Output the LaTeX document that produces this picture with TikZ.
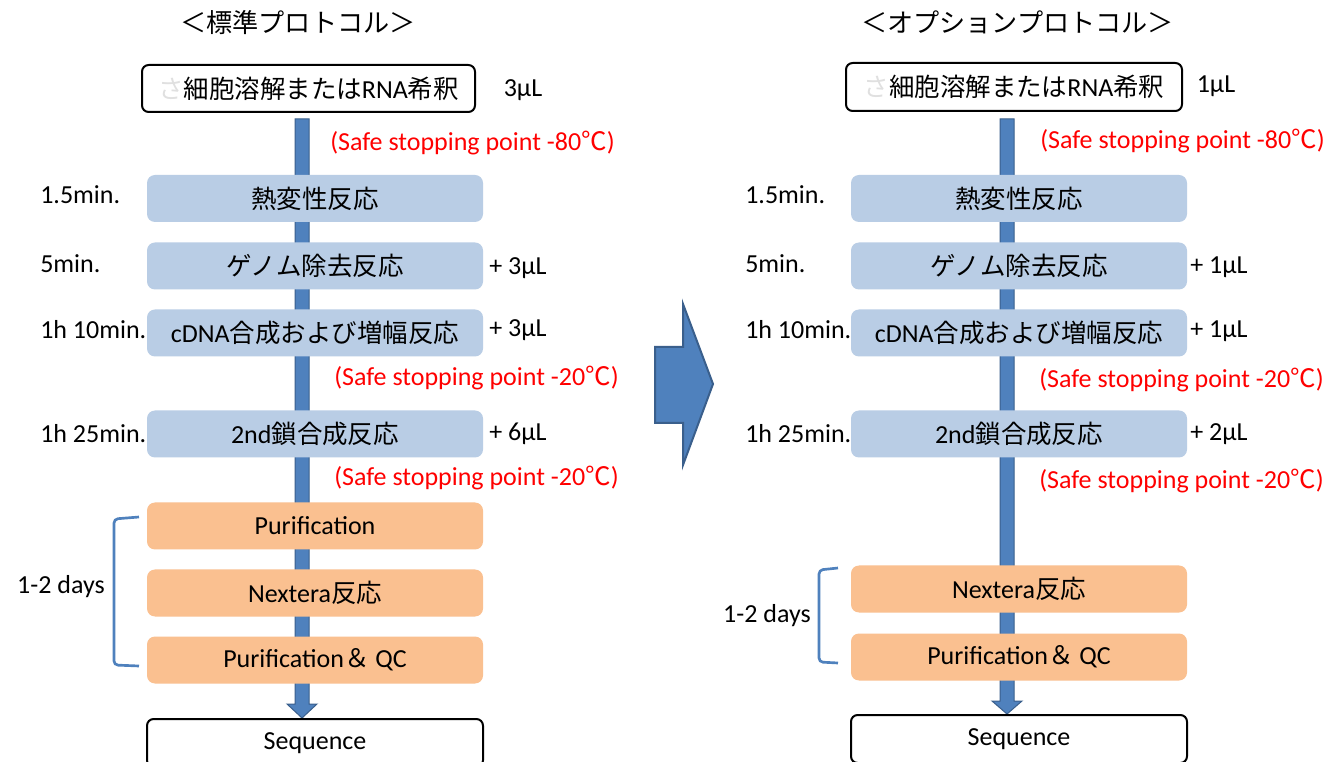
\documentclass[tikz,border=0pt]{standalone}
\usepackage{fontspec}
\setmainfont{Carlito}
\newfontfamily\jpfont[Scale=0.98]{Noto Sans CJK JP}
\usetikzlibrary{backgrounds,calc}
\newcommand{\jt}[1]{{\jpfont #1}}
\definecolor{boxblue}{HTML}{B9CDE5}
\definecolor{boxorange}{HTML}{FAC090}
\definecolor{arrowblue}{HTML}{4F81BD}
\definecolor{arrowedge}{HTML}{3A5F8C}
\definecolor{stopred}{HTML}{FF0000}
\tikzset{
  base/.style={font=\fontsize{19.5}{23}\selectfont, inner sep=0pt},
  whitebox/.style={base, draw=black, line width=1.5pt, rounded corners=5pt, fill=white, minimum height=35.25pt},
  bluebox/.style={base, fill=boxblue, rounded corners=6pt, minimum width=252pt, minimum height=35.25pt},
  orangebox/.style={base, fill=boxorange, rounded corners=6pt, minimum width=252pt, minimum height=35.25pt},
  lbl/.style={base, anchor=west},
  stoplbl/.style={base, text=stopred},
  ttl/.style={font=\jpfont\fontsize{20}{24}\selectfont, inner sep=0pt},
  vshaft/.style={fill=arrowblue, draw=arrowedge, line width=0.75pt, line join=miter},
  bigarrow/.style={fill=arrowblue, draw=arrowedge, line width=1.5pt, line join=miter},
  bracketline/.style={draw=arrowblue, line width=2pt, rounded corners=3pt},
}
\begin{document}
\begin{tikzpicture}[x=0.75pt,y=-0.75pt]
\useasboundingbox (0,0) rectangle (1339,762);

% ---------------- left: standard protocol ----------------
\node[ttl] (tL) at (298,23) {＜標準プロトコル＞};
\node[whitebox, minimum width=249.75pt] (topL) at (308.5,88.5) {\jt{\textcolor{black!12}{さ}細胞溶解または}RNA\jt{希釈}};
\node[base] (vL0) at (523,90) {3μL};
\node[stoplbl] (r1L) at (472.5,143) {(Safe stopping point -80\jt{℃})};
\node[bluebox] (b1L) at (315,198.5) {\jt{熱変性反応}};
\node[lbl] (t1L) at (40,195) {1.5min.};
\node[bluebox] (b2L) at (315,266) {\jt{ゲノム除去反応}};
\node[lbl] (t2L) at (40,264) {5min.};
\node[lbl] (v2L) at (489,268) {+ 3μL};
\node[bluebox] (b3L) at (315,333) {cDNA\jt{合成および増幅反応}};
\node[lbl] (t3L) at (40,330) {1h 10min.};
\node[lbl] (v3L) at (489,330) {+ 3μL};
\node[stoplbl] (r2L) at (476.5,378) {(Safe stopping point -20\jt{℃})};
\node[bluebox] (b4L) at (315,434) {2nd\jt{鎖合成反応}};
\node[lbl] (t4L) at (40,434) {1h 25min.};
\node[lbl] (v4L) at (489,434) {+ 6μL};
\node[stoplbl] (r3L) at (476.5,478) {(Safe stopping point -20\jt{℃})};
\node[orangebox] (o1L) at (315,526) {Purification};
\node[orangebox] (o2L) at (315,593) {Nextera\jt{反応}};
\node[orangebox] (o3L) at (315,660) {Purification\jt{＆} QC};
\node[whitebox, minimum width=252pt, minimum height=36pt, anchor=north] (sL) at (315,718) {Sequence};
\node[base] (dL) at (61,587) {1-2 days};
\draw[bracketline] (139,517) -- (114,519) -- (114,665) -- (139,666);
\coordinate (aL) at (302,119);

% ---------------- right: optional protocol ----------------
\node[ttl] (tR) at (1017.5,22) {＜オプションプロトコル＞};
\node[whitebox, minimum width=252pt, minimum height=36pt] (topR) at (1014,87) {\jt{\textcolor{black!12}{さ}細胞溶解または}RNA\jt{希釈}};
\node[base] (vR0) at (1216,86) {1μL};
\node[stoplbl] (r1R) at (1182.5,141) {(Safe stopping point -80\jt{℃})};
\node[bluebox] (b1R) at (1019,198.5) {\jt{熱変性反応}};
\node[lbl] (t1R) at (745,195) {1.5min.};
\node[bluebox] (b2R) at (1019,266) {\jt{ゲノム除去反応}};
\node[lbl] (t2R) at (745,264) {5min.};
\node[lbl] (v2R) at (1190,267) {+ 1μL};
\node[bluebox] (b3R) at (1019,333) {cDNA\jt{合成および増幅反応}};
\node[lbl] (t3R) at (745,330) {1h 10min.};
\node[lbl] (v3R) at (1190,331) {+ 1μL};
\node[stoplbl] (r2R) at (1181.5,380) {(Safe stopping point -20\jt{℃})};
\node[bluebox] (b4R) at (1019,434) {2nd\jt{鎖合成反応}};
\node[lbl] (t4R) at (745,434) {1h 25min.};
\node[lbl] (v4R) at (1190,434) {+ 2μL};
\node[stoplbl] (r3R) at (1181.5,481) {(Safe stopping point -20\jt{℃})};
\node[orangebox] (o2R) at (1019,589) {Nextera\jt{反応}};
\node[orangebox] (o3R) at (1019,657) {Purification\jt{＆} QC};
\node[whitebox, minimum width=252pt, minimum height=36pt, anchor=north] (sR) at (1019,714) {Sequence};
\node[base] (dR) at (767,616) {1-2 days};
\draw[bracketline] (838,568) -- (819,570) -- (819,662) -- (838,663);
\coordinate (aR) at (1007,119);

% ---------------- vertical flow arrows (behind the boxes) ----------------
\begin{pgfonlayer}{background}
\fill[white] (0,0) rectangle (1339,762);
\draw[vshaft] let \p1=(aL), \p2=(sL.north) in
  (\x1-5.25pt,\y1) -- (\x1+5.25pt,\y1) -- (\x1+5.25pt,\y2+10.5pt) -- (\x1+11.25pt,\y2+10.5pt)
  -- (\x1,\y2) -- (\x1-11.25pt,\y2+10.5pt) -- (\x1-5.25pt,\y2+10.5pt) -- cycle;
\draw[vshaft] let \p1=(aR), \p2=(sR.north) in
  (\x1-5.25pt,\y1) -- (\x1+5.25pt,\y1) -- (\x1+5.25pt,\y2+9.75pt) -- (\x1+11.25pt,\y2+9.75pt)
  -- (\x1,\y2) -- (\x1-11.25pt,\y2+9.75pt) -- (\x1-5.25pt,\y2+9.75pt) -- cycle;
\end{pgfonlayer}

% ---------------- middle block arrow ----------------
\draw[bigarrow] (655,347) -- (683,347) -- (683,304) -- (713,384) -- (683,465) -- (683,423) -- (655,423) -- cycle;
\end{tikzpicture}
\end{document}
